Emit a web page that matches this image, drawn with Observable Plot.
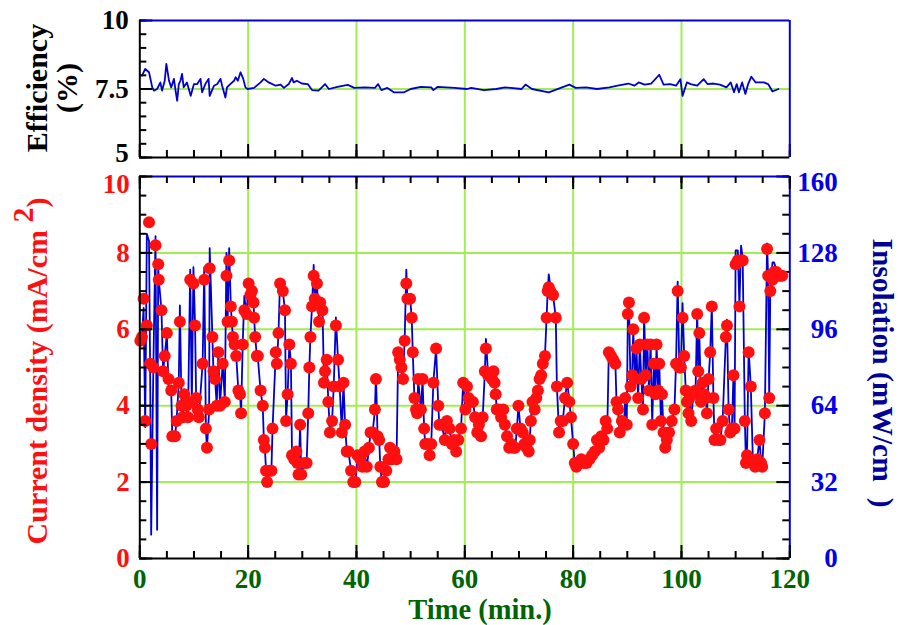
<!DOCTYPE html>
<html><head><meta charset="utf-8">
<script src="https://cdn.jsdelivr.net/npm/d3@7"></script>
<script src="https://cdn.jsdelivr.net/npm/@observablehq/plot@0.6"></script>
<style>
html,body{margin:0;padding:0;background:#fff;}
#chart{position:relative;width:901px;height:625px;overflow:hidden;}
#chart svg{position:absolute;left:0;top:0;}
</style></head><body><div id="chart"></div>
<script>
// ---- data ----
const time = [
0.1,0.4,0.7,1.0,1.3,1.7,1.9,2.1,2.5,2.9,
3.2,3.4,3.5,4.0,4.3,4.6,5.0,5.3,5.8,6.0,
6.5,6.8,7.2,7.4,7.7,7.9,8.2,8.6,8.9,9.3,
9.6,9.9,10.2,10.4,10.7,10.9,11.6,11.9,12.2,12.4,
12.8,12.9,13.4,13.6,13.9,14.2,14.5,14.8,15.3,15.7,
16.0,16.2,16.5,16.8,17.0,17.2,17.5,17.8,18.2,18.5,
18.7,19.0,19.3,19.7,20.1,20.4,20.7,21.0,21.1,21.3,
21.6,21.8,22.3,22.7,22.9,23.1,23.3,23.5,23.9,24.3,
24.5,25.1,25.3,25.6,25.9,26.4,26.8,27.0,27.3,27.6,
27.9,28.1,28.5,28.9,29.1,29.3,29.6,29.8,30.4,30.8,
31.1,31.3,31.5,31.8,32.1,32.3,32.7,33.1,33.3,33.7,
34.0,34.2,34.5,34.8,35.1,35.5,35.8,36.2,36.6,36.9,
37.3,37.6,37.9,38.2,38.5,39.0,39.4,39.8,40.2,40.7,
41.1,41.5,41.9,42.3,42.6,43.0,43.4,43.6,43.9,44.2,
44.4,44.7,45.1,45.5,45.9,46.2,46.5,47.0,47.4,47.7,
48.0,48.3,48.6,48.9,49.2,49.4,49.9,50.2,50.4,50.7,
51.0,51.2,51.4,51.9,52.2,52.5,52.7,53.1,53.5,53.8,
54.2,54.7,55.1,55.3,55.7,56.3,56.7,57.2,57.6,58.0,
58.4,58.8,59.3,59.7,60.1,60.4,60.7,61.1,61.5,61.9,
62.3,62.6,63.0,63.3,63.7,63.9,64.3,64.7,65.0,65.3,
65.5,65.7,65.9,66.3,66.7,67.1,67.4,67.8,68.2,68.6,
69.0,69.3,69.6,69.9,70.3,70.7,71.0,71.4,71.8,72.0,
72.2,72.5,72.9,73.2,73.5,73.8,74.1,74.4,74.8,75.1,
75.3,75.5,75.8,76.3,76.8,77.0,77.4,77.7,78.1,78.5,
78.9,79.3,79.6,80.0,80.3,80.6,81.0,81.5,82.0,82.5,
83.0,83.5,84.0,84.4,84.8,85.2,85.6,86.0,86.3,86.6,
87.0,87.4,87.8,88.0,88.3,88.6,89.0,89.4,89.6,89.9,
90.1,90.3,90.6,90.9,91.1,91.4,91.7,92.0,92.3,92.6,
92.9,93.1,93.4,93.7,94.0,94.3,94.6,94.9,95.2,95.4,
95.7,95.9,96.2,96.4,96.7,97.0,97.3,97.7,98.2,98.7,
99.0,99.3,99.6,99.9,100.2,100.5,100.8,101.0,101.3,101.5,
101.8,102.2,102.6,102.9,103.1,103.3,103.6,103.9,104.2,104.5,
104.7,105.0,105.3,105.6,105.9,106.1,106.4,106.8,107.2,107.6,
108.2,108.4,108.7,109.0,109.3,109.6,109.8,110.0,110.4,110.7,
111.0,111.3,111.7,111.9,112.1,112.4,112.8,113.2,113.6,114.0,
114.4,114.7,114.9,115.4,115.8,116.0,116.2,116.4,116.8,117.1,
117.5,117.9,118.3,118.6
];
const current = [
5.7,5.8,6.8,3.6,6.1,8.8,5.1,3.0,5.0,8.2,
null,7.7,7.3,6.5,4.9,5.3,5.9,4.7,4.4,3.2,
3.2,3.6,4.6,6.2,4.0,3.7,4.3,4.0,3.7,7.3,
4.1,7.2,6.1,4.2,3.9,3.7,5.1,7.3,3.4,2.9,
3.9,7.6,5.8,4.9,4.7,4.0,5.4,4.0,5.1,4.1,
7.4,6.2,7.8,6.6,6.2,5.8,5.6,5.3,4.4,4.3,
3.8,5.6,6.5,6.4,7.2,6.9,7.0,6.7,6.3,5.8,
5.3,5.3,4.4,4.0,3.1,2.9,2.3,2.0,2.3,2.3,
3.4,5.4,5.1,5.9,7.2,7.0,6.5,3.6,4.3,5.6,
5.1,2.7,2.6,2.8,2.5,2.2,3.5,2.2,2.5,2.5,
3.8,5.0,5.8,6.6,7.4,6.8,7.2,6.2,6.7,6.5,
4.6,4.9,5.2,4.1,3.3,3.6,4.5,6.1,5.2,4.5,
3.3,4.6,3.5,2.8,2.8,2.3,2.0,2.0,2.7,2.6,
2.4,2.8,2.4,2.9,3.3,3.3,3.9,4.7,3.2,3.1,
2.4,2.0,2.0,2.3,2.6,2.9,2.6,2.8,2.6,5.4,
5.2,5.0,4.7,5.7,7.2,6.8,6.8,6.3,5.4,4.2,
3.9,3.8,4.7,3.9,4.7,3.4,3.0,3.0,2.7,3.0,
4.6,5.5,4.0,3.5,3.5,3.1,3.6,3.4,3.0,3.1,
2.8,3.1,3.4,4.6,3.9,4.5,4.2,4.1,4.1,3.7,
3.3,3.5,3.2,3.7,4.9,5.5,4.8,4.8,4.7,4.9,
4.6,4.3,3.9,3.9,3.7,3.9,3.5,3.2,2.9,3.0,
2.9,2.9,3.4,4.0,3.4,3.3,3.0,2.9,2.8,3.1,
3.6,4.1,3.9,4.2,4.4,4.7,4.8,5.1,5.3,6.3,
7.0,7.1,7.0,6.9,6.3,4.5,3.3,3.6,3.6,4.2,
4.6,4.1,3.7,3.0,2.5,2.4,2.5,2.6,2.5,2.5,
2.6,2.7,2.8,3.1,2.9,3.2,3.1,3.6,3.4,5.4,
5.3,5.2,5.1,4.1,3.9,3.3,3.6,3.5,4.2,3.5,
6.4,6.7,4.5,4.8,6.0,4.7,5.5,4.2,5.6,4.7,
3.9,6.3,4.8,5.6,4.4,5.6,3.5,5.1,4.3,5.6,
4.4,5.1,3.6,4.3,3.3,2.9,3.1,3.3,3.6,3.9,
5.1,7.0,5.0,5.0,6.3,5.3,4.4,4.1,3.8,4.2,
3.6,4.3,4.4,6.4,4.9,5.9,4.1,4.6,4.3,4.2,
3.8,4.7,5.4,6.6,4.2,3.1,3.4,3.1,3.1,3.6,
5.8,6.1,3.9,3.3,3.4,4.8,3.4,7.7,7.8,6.6,
7.8,7.8,3.6,2.5,2.7,5.4,4.5,2.5,2.4,2.6,
3.1,2.5,2.4,3.8,8.1,7.4,4.2,7.0,7.3,7.5,
7.5,7.4,7.4,7.4
];
const insolation = [
91,93,105,55,136,133,82,10,80,135,
12,123,117,104,78,85,94,72,70,51,
51,58,74,106,64,59,69,64,59,121,
64,122,98,67,62,59,82,122,54,46,
62,130,93,78,75,64,86,64,82,66,
128,98,130,106,98,93,90,85,70,69,
61,90,110,102,116,110,112,107,101,93,
85,84,70,64,50,46,37,32,37,37,
54,86,82,94,117,112,104,58,69,90,
82,43,42,45,40,35,56,35,40,40,
61,80,93,106,123,109,115,99,107,108,
74,78,83,66,53,58,72,101,83,72,
53,74,56,45,45,37,32,32,43,42,
38,45,38,46,53,53,62,77,51,50,
38,32,32,37,42,46,42,45,42,86,
83,80,75,92,121,109,109,101,86,67,
62,60,75,62,75,54,48,48,43,48,
74,88,64,56,56,50,58,54,48,50,
45,50,54,74,62,72,67,66,66,59,
53,56,51,59,78,92,77,77,75,78,
74,69,62,62,59,62,56,51,46,48,
46,46,54,64,54,53,48,46,45,50,
58,66,62,67,70,75,77,82,85,101,
112,119,114,110,101,72,53,58,58,67,
74,66,59,48,40,38,40,42,40,40,
42,43,45,50,46,51,50,58,54,88,
85,83,82,66,62,53,58,56,67,56,
102,108,72,77,96,75,88,67,90,75,
62,103,77,90,70,90,56,82,69,90,
70,82,58,69,53,46,50,53,58,62,
82,116,80,80,107,85,70,66,61,67,
58,69,70,104,78,94,66,74,69,67,
61,75,86,106,67,50,54,50,50,58,
93,100,62,53,54,77,54,129,129,106,
131,126,58,40,43,88,72,40,38,42,
50,40,38,61,132,118,67,112,124,124,
121,119,118,118
];
const effTime = [
0.4,1.0,1.7,2.3,2.6,3.2,3.8,4.1,4.6,4.9,
5.4,5.8,6.3,6.6,6.9,7.2,7.5,7.8,8.1,8.7,
9.4,10.0,10.6,11.2,11.5,12.1,12.7,12.9,13.7,14.3,
14.9,15.2,15.8,16.1,16.7,17.4,17.7,18.1,18.6,19.1,
19.5,19.9,21.1,22.3,22.9,23.8,25.1,26.0,26.6,27.5,
28.1,28.4,29.0,29.9,31.0,31.8,33.0,34.2,34.9,36.5,
38.4,39.6,41.5,43.4,44.0,44.6,45.7,46.9,48.8,50.0,
51.9,53.8,54.2,55.0,58.1,60.4,61.2,63.5,65.8,67.4,
70.5,71.2,72.4,75.5,76.6,79.3,80.5,82.4,84.4,86.7,
88.2,90.2,91.3,92.1,93.2,94.4,95.9,96.7,97.9,99.0,
99.8,100.2,101.0,101.7,102.9,104.1,104.8,105.9,107.1,108.3,
109.1,109.7,110.2,110.6,111.2,111.8,112.3,112.9,113.7,115.2,
116.0,116.8,117.9
];
const efficiency = [
7.99,8.23,8.11,7.56,7.44,7.5,7.74,7.44,7.8,8.42,
7.8,7.56,7.87,7.44,7.07,7.68,7.8,8.05,7.56,7.74,
7.25,7.68,7.68,7.87,7.38,7.68,7.87,7.25,7.62,7.68,
7.87,7.62,7.19,7.56,7.68,7.8,7.93,7.8,8.11,7.87,
7.56,7.5,7.54,7.74,7.87,7.74,7.62,7.66,7.54,7.68,
7.9,7.74,7.8,7.7,7.68,7.46,7.44,7.68,7.5,7.58,
7.65,7.54,7.56,7.54,7.68,7.46,7.54,7.38,7.38,7.5,
7.58,7.56,7.46,7.58,7.54,7.5,7.54,7.46,7.5,7.56,
7.5,7.66,7.5,7.38,7.46,7.66,7.54,7.56,7.5,7.56,
7.62,7.7,7.62,7.74,7.66,7.7,8.02,7.66,7.68,7.62,
7.86,7.25,7.74,7.68,7.62,7.86,7.68,7.7,7.66,7.56,
7.74,7.38,7.68,7.38,7.74,7.32,7.68,7.95,7.74,7.74,
7.68,7.41,7.5
];
const xTicks = [0, 20, 40, 60, 80, 100, 120];
const gridX = [20, 40, 60, 80, 100];
const currentTicks = [0, 2, 4, 6, 8, 10];
const insolationTicks = [0, 32, 64, 96, 128, 160];
const effTicks = [5, 7.5, 10];

// ---- style ----
const W = 901, H = 625, ML = 139.3, MR = 111.7;
const FONT = "'Liberation Serif','Times New Roman',serif";
const GREEN = "#a2ee52", BLUE = "#0000d0", RED = "#ff1010", DKGREEN = "#006400", NAVY = "#000099";
const PW = W - ML - MR;            // plot width
const BOT_TOP = 176, BOT_BOTTOM = 558, TOP_TOP = 20, TOP_BOTTOM = 157;
const BH = BOT_BOTTOM - BOT_TOP, TH = TOP_BOTTOM - TOP_TOP;
const MAJ = 13, MIN = 7;

const rows = time.map((t, i) => ({t, c: current[i], ins: insolation[i]}));
const effRows = effTime.map((t, i) => ({t, e: efficiency[i]}));
const xMinor = d3.range(0, 121, 5);
const txt = {fontFamily: FONT, fontWeight: "bold", fontSize: 27, tickSize: 0, label: null, tickFormat: d => String(d)};
const tk = {stroke: "black", strokeWidth: 2};
const common = {width: W, height: H, marginLeft: ML, marginRight: MR,
  style: {background: "transparent", overflow: "visible"},
  x: {domain: [0, 120], axis: null}};

// top panel: efficiency
const plotC = Plot.plot({...common, marginTop: TOP_TOP, marginBottom: H - TOP_BOTTOM,
  y: {domain: [5, 10], axis: null},
  marks: [
    Plot.ruleX(gridX, {stroke: GREEN, strokeWidth: 2}),
    Plot.ruleY([7.5], {stroke: GREEN, strokeWidth: 2}),
    Plot.line(effRows, {x: "t", y: "e", stroke: BLUE, strokeWidth: 1.8}),
    Plot.tickY(d3.range(5, 10.01, 0.5), {...tk, insetRight: PW - MIN}),
    Plot.tickY(effTicks, {...tk, insetRight: PW - MAJ}),
    Plot.tickX(xMinor, {...tk, insetTop: TH - MIN}),
    Plot.tickX(xTicks, {...tk, insetTop: TH - MAJ}),
    Plot.ruleY([10], {stroke: BLUE, strokeWidth: 2}),
    Plot.ruleX([120], {stroke: BLUE, strokeWidth: 2}),
    Plot.ruleX([0], {stroke: "black", strokeWidth: 2}),
    Plot.ruleY([5], {stroke: "black", strokeWidth: 2}),
    Plot.axisY([7.5, 10], {...txt, anchor: "left", tickPadding: 11, fill: "black"}),
    Plot.axisY([5], {...txt, anchor: "left", tickPadding: 11, fill: "black", dy: -4})
  ]});

// bottom panel, insolation layer (under the dots)
const plotA = Plot.plot({...common, marginTop: BOT_TOP, marginBottom: H - BOT_BOTTOM,
  y: {domain: [0, 160], axis: null},
  marks: [
    Plot.ruleX(gridX, {stroke: GREEN, strokeWidth: 2}),
    Plot.ruleY(insolationTicks.slice(1, 5), {stroke: GREEN, strokeWidth: 2}),
    Plot.line(rows, {x: "t", y: "ins", stroke: BLUE, strokeWidth: 1.8}),
    Plot.tickY(d3.range(0, 161, 8), {...tk, insetLeft: PW - MIN}),
    Plot.tickY(insolationTicks, {...tk, insetLeft: PW - MAJ}),
    Plot.ruleY([160], {stroke: BLUE, strokeWidth: 2}),
    Plot.ruleX([120], {stroke: BLUE, strokeWidth: 2}),
    Plot.axisY(insolationTicks.slice(0, 5), {...txt, anchor: "right", tickPadding: 0, dx: 48, textAnchor: "end", fill: "#0000ee"}),
    Plot.axisY([160], {...txt, anchor: "right", tickPadding: 0, dx: 48, dy: 6, textAnchor: "end", fill: "#0000ee"})
  ]});

// bottom panel, current density layer (dots on top)
const plotB = Plot.plot({...common, marginTop: BOT_TOP, marginBottom: H - BOT_BOTTOM,
  y: {domain: [0, 10], axis: null},
  marks: [
    Plot.dot(rows.filter(d => d.c != null), {x: "t", y: "c", r: 6, fill: RED, stroke: "none"}),
    Plot.tickY(d3.range(0, 10.01, 0.5), {...tk, insetRight: PW - MIN}),
    Plot.tickY(currentTicks, {...tk, insetRight: PW - MAJ}),
    Plot.tickX(xMinor, {...tk, insetTop: BH - MIN}),
    Plot.tickX(xTicks, {...tk, insetTop: BH - MAJ}),
    Plot.tickX(xMinor, {...tk, insetBottom: BH - MIN}),
    Plot.tickX(xTicks, {...tk, insetBottom: BH - MAJ}),
    Plot.ruleX([0], {stroke: "black", strokeWidth: 2}),
    Plot.ruleY([0], {stroke: "black", strokeWidth: 2}),
    Plot.axisY(currentTicks.slice(0, 5), {...txt, anchor: "left", tickPadding: 10, fill: RED}),
    Plot.axisY([10], {...txt, anchor: "left", tickPadding: 10, dy: 8, fill: RED}),
    Plot.axisX(xTicks, {...txt, anchor: "bottom", tickPadding: 10, fill: DKGREEN})
  ]});

const chart = document.getElementById("chart");
chart.append(plotC, plotA, plotB);

// axis titles
const svg = d3.select(plotB);
function title(str, x, y, rot, color, size) {
  const t = svg.append("text")
    .attr("transform", `translate(${x},${y}) rotate(${rot})`)
    .attr("text-anchor", "middle")
    .attr("font-family", FONT).attr("font-weight", "bold").attr("font-size", size || 30)
    .attr("fill", color);
  t.append("tspan").text(str);
  return t;
}
title("Efficiency", 47, 88, -90, "black");
title("(%)", 77, 88, -90, "black");
const lt = title("Current density (mA/cm ", 47, 371, -90, RED);
lt.append("tspan").attr("dy", -14).text("2");
lt.append("tspan").attr("dy", 14).text(")");
const rt = title("Insolation (mW/cm", 873, 373, 90, NAVY, 29.5);
rt.append("tspan").attr("dx", 16).text(")");
title("Time (min.)", 480, 618.8, 0, DKGREEN, 28.5);
</script></body></html>
